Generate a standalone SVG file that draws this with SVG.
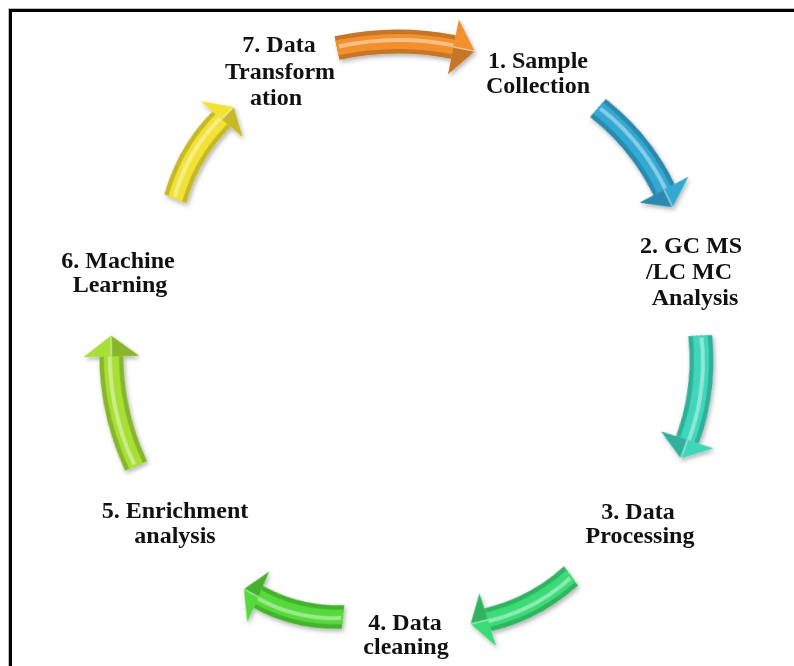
<svg xmlns="http://www.w3.org/2000/svg" xmlns:xlink="http://www.w3.org/1999/xlink" width="794" height="666" viewBox="0 0 794 666">
  <style>
    .label { font-family: "Liberation Serif", "Times New Roman", serif; font-weight: bold; font-size: 24px; fill: #111; text-anchor: middle; }
    .b-base { fill: none; stroke: currentColor; stroke-width: 24; }
    .b-edge { fill: none; stroke: #000; stroke-opacity: 0.18; stroke-width: 24; }
    .b-mid { fill: none; stroke: currentColor; stroke-width: 15; }
    .b-ridge { fill: none; stroke: #fff; stroke-opacity: 0.42; stroke-width: 4; }
    .h-base { fill: currentColor; }
    .h-shade { fill: #000; fill-opacity: 0.18; }
    .h-ridge { fill: none; stroke: #fff; stroke-opacity: 0.5; stroke-width: 1.5; }
  </style>
  <defs>
    <filter id="shadow" x="-10%" y="-10%" width="120%" height="120%">
      <feDropShadow dx="1.5" dy="2.5" stdDeviation="2" flood-color="#000" flood-opacity="0.3"/>
    </filter>
    <!-- curved block arrow, chord from (-70,0) to tip (70,0), bowing toward -y -->
    <g id="arrow-shape">
      <path class="b-base" d="M-70 0 Q-11 -14.3 48 -4.5"/>
      <path class="b-edge" d="M-70 0 Q-11 -14.3 48 -4.5"/>
      <path class="b-mid" d="M-70 0 Q-11 -14.3 48 -4.5"/>
      <path class="b-ridge" d="M-68 -1.5 Q-11 -15.6 48 -6"/>
      <polygon class="h-base" points="52.6,-32.1 69.7,-0.9 43.4,23.1"/>
      <polygon class="h-shade" points="48,-4.5 69.7,-0.9 43.4,23.1"/>
      <line class="h-ridge" x1="48" y1="-4.5" x2="69.7" y2="-0.9"/>
    </g>
  </defs>

  <rect width="794" height="666" fill="#fff"/>

  <!-- page frame -->
  <path d="M8.5 666 V8.5 H794" fill="none" stroke="#bdbdbd" stroke-width="1"/>
  <path d="M10.5 666 V10.5 H794" fill="none" stroke="#000" stroke-width="3"/>

  <!-- cycle arrows -->
  <g id="connectors" filter="url(#shadow)">
    <g id="arrow-7-1"><use xlink:href="#arrow-shape" href="#arrow-shape" color="#F2902E" transform="translate(406 50) rotate(1.7) scale(0.986 1)"/></g>
    <g id="arrow-1-2"><use xlink:href="#arrow-shape" href="#arrow-shape" color="#33A8D3" transform="translate(635 158) rotate(53.5) scale(0.889 1)"/></g>
    <g id="arrow-2-3"><use xlink:href="#arrow-shape" href="#arrow-shape" color="#3FD6BA" transform="translate(690 397) rotate(99.5) scale(0.89 1)"/></g>
    <g id="arrow-3-4"><use xlink:href="#arrow-shape" href="#arrow-shape" color="#3BDB78" transform="translate(520.5 599.5) rotate(155) scale(0.796 1)"/></g>
    <g id="arrow-4-5"><use xlink:href="#arrow-shape" href="#arrow-shape" color="#55D93A" transform="translate(293.5 602.5) rotate(196.3) scale(0.737 1)"/></g>
    <g id="arrow-5-6"><use xlink:href="#arrow-shape" href="#arrow-shape" color="#A6DF34" transform="translate(124 400.5) rotate(259.6) scale(0.951 1)"/></g>
    <g id="arrow-6-7"><use xlink:href="#arrow-shape" href="#arrow-shape" color="#F1E234" transform="translate(205 153) rotate(303) scale(0.78 1)"/></g>
  </g>

  <!-- steps -->
  <g id="step-1">
    <text class="label" x="538" y="68">1. Sample</text>
    <text class="label" x="538" y="93">Collection</text>
  </g>
  <g id="step-2">
    <text class="label" x="691" y="253">2. GC MS</text>
    <text class="label" x="689" y="279">/LC MC</text>
    <text class="label" x="695" y="305">Analysis</text>
  </g>
  <g id="step-3">
    <text class="label" x="638" y="519">3. Data</text>
    <text class="label" x="640" y="543">Processing</text>
  </g>
  <g id="step-4">
    <text class="label" x="405" y="630">4. Data</text>
    <text class="label" x="406" y="654">cleaning</text>
  </g>
  <g id="step-5">
    <text class="label" x="175" y="518">5. Enrichment</text>
    <text class="label" x="175" y="543">analysis</text>
  </g>
  <g id="step-6">
    <text class="label" x="118" y="268">6. Machine</text>
    <text class="label" x="120" y="292">Learning</text>
  </g>
  <g id="step-7">
    <text class="label" x="279" y="52">7. Data</text>
    <text class="label" x="280" y="79">Transform</text>
    <text class="label" x="276" y="105">ation</text>
  </g>
</svg>
